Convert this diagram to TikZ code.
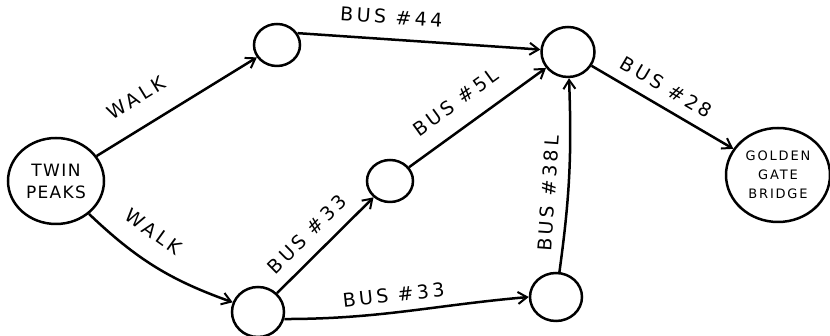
\documentclass[tikz,border=0pt]{standalone}
\usepackage{fontspec}
\setmainfont{DejaVu Sans}
\usetikzlibrary{arrows.meta,shapes.geometric}
\begin{document}
\begin{tikzpicture}[x=1pt,y=1pt,
  place/.style={draw, ellipse, line width=2.5pt, inner sep=0pt},
  route/.style={line width=2.5pt, -{Straight Barb[length=9pt,width=12pt,line width=2pt]}},
  lab/.style={font=\fontsize{19}{19}\selectfont\addfontfeature{LetterSpace=18}, sloped, above=5pt, inner sep=4pt},
  stoptext/.style={align=center, font=\fontsize{17}{22}\selectfont\addfontfeature{LetterSpace=8}},
  endtext/.style={align=center, font=\fontsize{13}{19}\selectfont\addfontfeature{LetterSpace=14}}
]
\useasboundingbox (0,0) rectangle (830,336);
\node[place, stoptext, minimum width=96pt, minimum height=86pt] (tp) at (56,155) {TWIN\\PEAKS};
\node[place, minimum width=46pt, minimum height=42pt] (a) at (277,291) {};
\node[place, minimum width=46pt, minimum height=42pt] (b) at (390,155) {};
\node[place, minimum width=52pt, minimum height=50pt] (c) at (258,24) {};
\node[place, minimum width=53pt, minimum height=50pt] (d) at (568,284) {};
\node[place, minimum width=52pt, minimum height=48pt] (e) at (556,39) {};
\node[place, endtext, minimum width=104pt, minimum height=94pt] (g) at (778,161) {GOLDEN\\GATE\\BRIDGE};

\draw[route] (tp) -- node[lab, pos=0.34, above=12pt] {WALK} (a);
\draw[route] (tp) to[bend right=12] node[lab, pos=0.36, above=11pt] {WALK} (c);
\draw[route] (a.30) -- node[lab, pos=0.38, above=5pt] {BUS \#44} (d.175);
\draw[route] (c) -- node[lab, pos=0.46, above=3pt] {BUS \#33} (b);
\draw[route] (b) -- node[lab, pos=0.45, above=8pt] {BUS \#5L} (d);
\draw[route] (c.-15) to[out=0, in=185] node[lab, pos=0.45, above=0pt] {BUS \#33} (e.west);
\draw[route] (e) to[bend right=5] node[lab, pos=0.39, above=2pt] {BUS \#38L} (d);
\draw[route] (d) -- node[lab, pos=0.46, above=2pt] {BUS \#28} (g);
\end{tikzpicture}
\end{document}
